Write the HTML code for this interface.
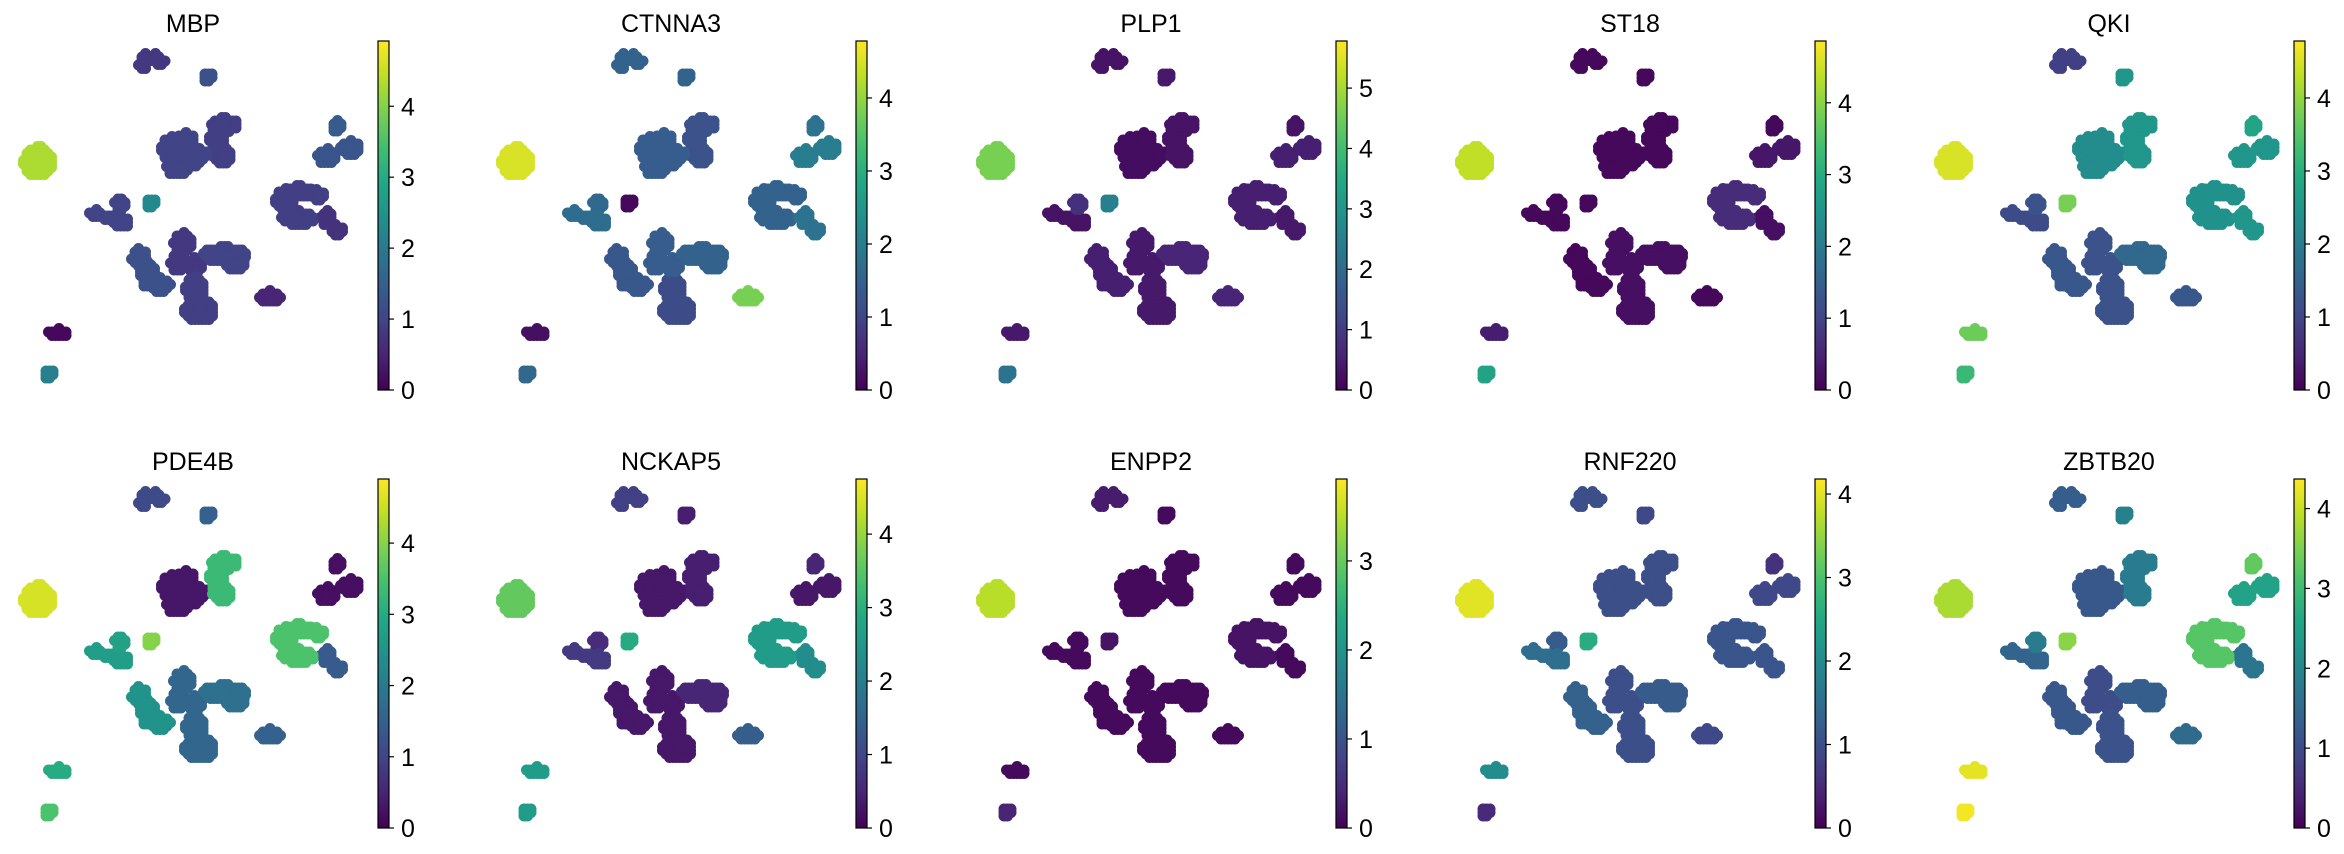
<!DOCTYPE html>
<html><head><meta charset="utf-8"><style>
html,body{margin:0;padding:0;background:#fff;}
svg{display:block;font-family:"Liberation Sans","DejaVu Sans",sans-serif;}
</style></head><body>
<svg id="chart" width="2344" height="854" viewBox="0 0 2344 854" xmlns="http://www.w3.org/2000/svg"></svg>
<script>
// ---- data ----
const genes = ["MBP","CTNNA3","PLP1","ST18","QKI","PDE4B","NCKAP5","ENPP2","RNF220","ZBTB20"];
const colorMax = [4.92,4.78,5.78,4.86,4.78,4.9,4.75,3.92,4.18,4.37];
const ticksPerGene = [[0,1,2,3,4],[0,1,2,3,4],[0,1,2,3,4,5],[0,1,2,3,4],[0,1,2,3,4],[0,1,2,3,4],[0,1,2,3,4],[0,1,2,3],[0,1,2,3,4],[0,1,2,3,4]];
// per-cluster mean expression (clusters 0..18)
const exprMBP    = [4.3,0.8,1.2,1.0,0.9,1.4,1.3,0.9,0.7,1.0,2.3,1.0,1.2,0.8,1.0,0.9,0.5,0.1,2.1];
const exprCTNNA3 = [4.5,1.5,1.5,1.4,1.2,1.8,2.0,1.5,1.8,1.6,0.1,1.7,1.3,1.4,1.5,1.1,3.8,0.2,1.6];
const exprPLP1   = [4.6,0.3,0.4,0.2,0.3,0.3,0.5,0.5,0.4,0.8,2.5,0.3,0.5,0.4,0.6,0.4,0.6,0.4,2.2];
const exprST18   = [4.4,0.1,0.1,0.1,0.1,0.1,0.3,0.6,0.2,0.1,0.1,0.1,0.1,0.2,0.2,0.2,0.1,0.4,2.8];
const exprQKI    = [4.5,0.9,2.5,2.3,2.5,2.8,2.5,2.4,2.5,1.2,3.8,1.1,1.3,1.2,1.6,1.2,1.3,3.7,3.2];
const exprPDE4B  = [4.6,1.1,1.5,0.3,3.3,0.2,0.2,3.5,1.4,2.8,4.0,2.7,2.5,1.6,1.8,1.6,1.5,3.0,3.5];
const exprNCKAP5 = [3.6,0.9,0.4,0.3,0.4,0.5,0.3,2.6,2.3,0.6,2.9,0.8,0.3,0.3,0.5,0.3,1.4,2.6,2.6];
const exprENPP2  = [3.5,0.3,0.1,0.1,0.1,0.1,0.1,0.2,0.1,0.1,0.2,0.1,0.1,0.1,0.1,0.1,0.1,0.1,0.4];
const exprRNF220 = [4.0,1.0,0.9,1.0,1.0,0.6,0.9,1.1,1.1,1.2,2.6,1.5,1.3,1.0,1.2,1.0,0.9,2.0,0.5];
const exprZBTB20 = [3.8,1.3,1.9,1.2,1.8,3.3,2.5,3.2,1.7,1.8,3.6,1.4,1.2,1.0,1.3,1.1,1.5,4.2,4.3];
const exprAll = [exprMBP,exprCTNNA3,exprPLP1,exprST18,exprQKI,exprPDE4B,exprNCKAP5,exprENPP2,exprRNF220,exprZBTB20];
// cluster shapes (ellipses in first-panel coordinates: cx,cy,rx,ry)
const clusterShapes = [
 [[38,162,13,14]],
 [[145,59,5,4],[155,58,5,3],[160,62,4,3],[143,66,3,3]],
 [[207,76,4,4]],
 [[172,150,9,12],[185,140,8,6],[190,158,10,8],[178,168,10,7],[200,155,6,5]],
 [[225,125,12,6],[217,140,6,12],[222,155,8,8]],
 [[337,126,5,4]],
 [[327,157,8,7],[350,148,8,6]],
 [[285,200,8,10],[300,192,12,5],[298,218,15,6],[318,195,7,4]],
 [[327,218,5,6],[337,230,7,4]],
 [[120,203,4,6]],
 [[150,202,4,4]],
 [[96,214,5,3],[107,217,4,3],[122,222,7,5]],
 [[140,258,7,8],[148,275,6,12],[160,285,9,6]],
 [[183,243,8,9],[178,262,6,8],[195,265,6,6]],
 [[225,255,20,7],[236,265,8,5]],
 [[195,290,8,12],[200,310,14,10]],
 [[270,297,9,5]],
 [[58,333,8,3]],
 [[48,373,4,4]]
];
// ---- layout ----
const NS="http://www.w3.org/2000/svg";
const svg=document.getElementById('chart');
const cbX=[378,856,1336,1815,2294], cbW=11, cbTop=41, cbBot=390, rowOff=438;
const vir=[[68,1,84],[72,36,117],[65,68,135],[53,95,141],[42,120,142],[33,145,140],[34,168,132],[68,191,112],[122,209,81],[189,223,38],[253,231,37]];
function viridis(t){t=Math.max(0,Math.min(1,t));const s=t*(vir.length-1),i=Math.min(Math.floor(s),vir.length-2),f=s-i;
 const c=vir[i].map((v,k)=>Math.round(v+(vir[i+1][k]-v)*f));return `rgb(${c[0]},${c[1]},${c[2]})`;}
function mk(tag,attrs){const e=document.createElementNS(NS,tag);for(const k in attrs)e.setAttribute(k,attrs[k]);return e;}
const clusterPts=clusterShapes.map(sh=>{const pts=[];const seen=new Set();
 sh.forEach(([cx,cy,rx0,ry0])=>{const rx=rx0+1.5,ry=ry0+1.5;for(let y=cy-ry;y<=cy+ry;y+=3.5)for(let x=cx-rx;x<=cx+rx;x+=3.5){
  const dx=(x-cx)/rx,dy=(y-cy)/ry;if(dx*dx+dy*dy<=1.05){const k=Math.round(x)+','+Math.round(y);if(!seen.has(k)){seen.add(k);pts.push([x,y]);}}}
  pts.push([cx,cy]);});return pts;});
const defs=mk('defs',{});svg.appendChild(defs);
genes.forEach((g,gi)=>{
 const col=gi%5,row=Math.floor(gi/5),dx=cbX[col]-cbX[0],dy=row*rowOff;
 const panel=mk('g',{});
 
 
 svg.appendChild(panel);
 const title=mk('text',{x:193+dx,y:32+dy,'text-anchor':'middle','font-size':25,fill:'#000'});
 
 
 title.textContent=g;panel.appendChild(title);
 const sc=mk('g',{});
 
 
 panel.appendChild(sc);
 const vals=exprAll[gi],mx=colorMax[gi];
 const order=clusterPts.map((p,i)=>i).sort((a,b)=>vals[a]-vals[b]);
 order.forEach(ci=>{const c=viridis(vals[ci]/mx);
  clusterPts[ci].forEach(([x,y])=>{const d=mk('circle',{cx:x+dx,cy:y+dy,r:5.5,fill:c});
   
   
   sc.appendChild(d);});});
 const gid='grad'+gi;const lg=mk('linearGradient',{id:gid,x1:0,y1:1,x2:0,y2:0});
 for(let k=0;k<=10;k++)lg.appendChild(mk('stop',{offset:k/10,'stop-color':viridis(k/10)}));
 defs.appendChild(lg);
 const x0=cbX[col],y0=cbTop+dy,y1=cbBot+dy;
 const bar=mk('rect',{x:x0,y:y0,width:cbW,height:y1-y0,fill:`url(#${gid})`,stroke:'#000','stroke-width':1.2});
 
 
 panel.appendChild(bar);
 const yScale=v=>y1-(v/mx)*(y1-y0);
 ticksPerGene[gi].forEach(t=>{const ty=yScale(t);
  const tk=mk('line',{x1:x0+cbW,x2:x0+cbW+5,y1:ty,y2:ty,stroke:'#000','stroke-width':1.2});
  
  
  panel.appendChild(tk);
  const tl=mk('text',{x:x0+cbW+12,y:ty+9,'font-size':25,fill:'#000'});
  
  
  tl.textContent=t;panel.appendChild(tl);});
});
</script>
</body></html>
